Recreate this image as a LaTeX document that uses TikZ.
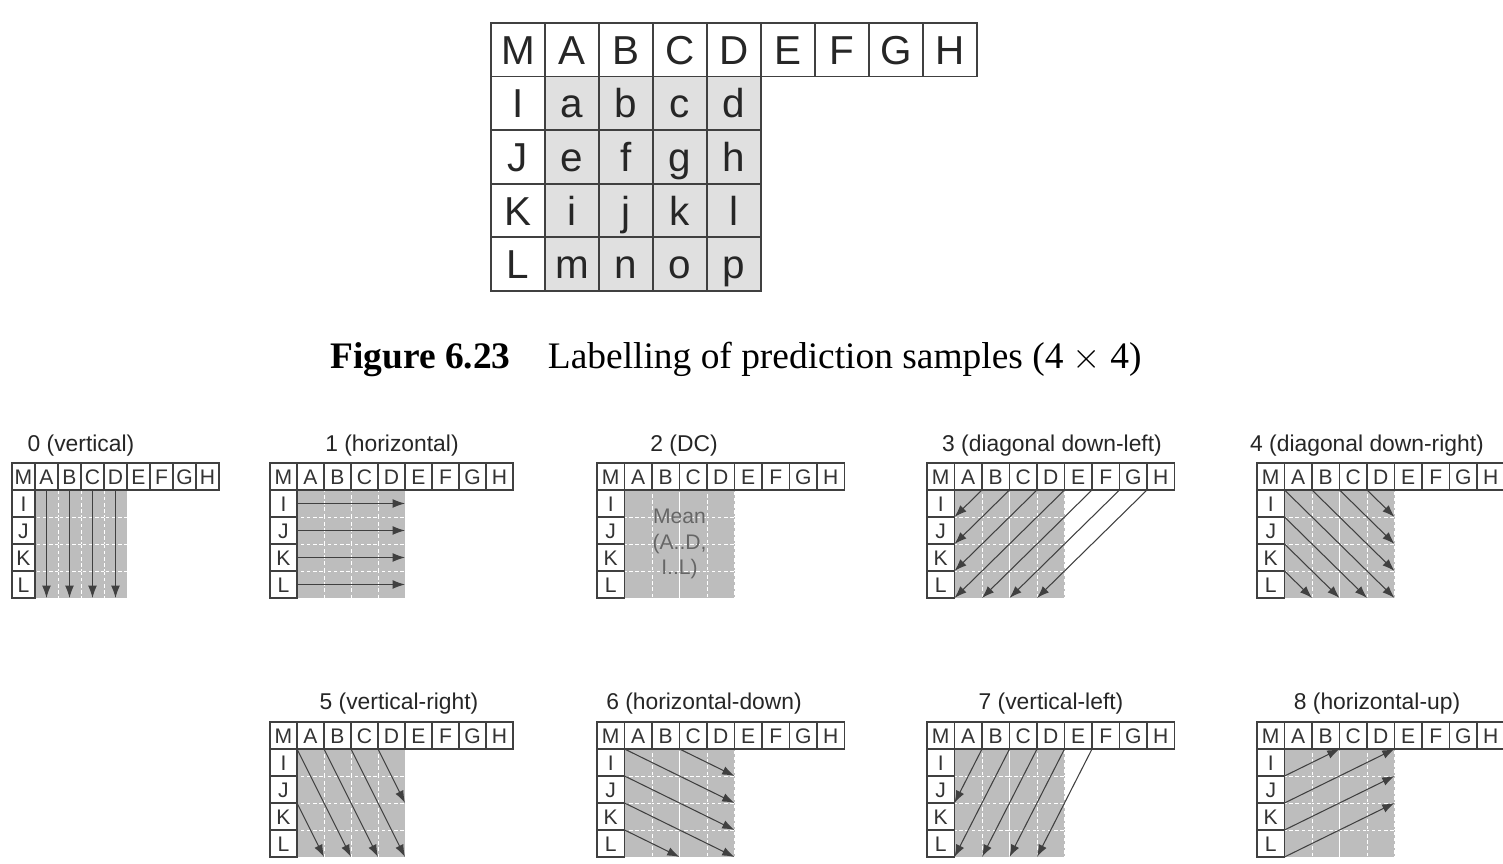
\documentclass[tikz,border=0pt]{standalone}
\usepackage{fontspec}
\setmainfont{Liberation Serif}
\setsansfont{Liberation Sans}
\usetikzlibrary{arrows.meta, positioning}

\tikzset{
  smallcell/.style={draw=black!75, fill=white, line width=0.6pt, inner sep=0pt, outer sep=0pt,
    minimum height=0.54cm, text height=8.6pt, text depth=0pt, text=black!80,
    font=\sffamily\fontsize{12}{14}\selectfont},
  blockcell/.style={draw=white, dash pattern=on 2pt off 1.5pt, line width=0.5pt, fill=black!26,
    inner sep=0pt, outer sep=0pt, minimum height=0.54cm},
  bigcell/.style={draw=black!75, fill=white, line width=1pt, inner sep=0pt, outer sep=0pt,
    minimum width=1.08cm, minimum height=1.072cm, text height=16.5pt, text depth=0pt,
    text=black!85, font=\sffamily\fontsize{23}{25}\selectfont},
  bigblock/.style={bigcell, fill=black!12},
  modelabel/.style={text=black!85, font=\sffamily\fontsize{13}{15}\selectfont},
  predarrow/.style={draw=black!75, line width=0.6pt, -{Latex[length=7pt,width=5pt]}}
}

% one 4x4 prediction grid: name, left, top, cell width (px)
\newcommand{\modegrid}[4]{%
  \begin{scope}[shift={(#2,#3)}, x=#4*0.02cm, y=-0.54cm]
    \foreach \l [count=\i from 0, evaluate=\i as \cx using {mod(\i,4)+1.5},
                 evaluate=\i as \cy using {int(\i/4)+1.5}] in {a,...,p}
      \node[blockcell, minimum width=#4*0.02cm] (#1-\l) at (\cx,\cy) {};
    \node[smallcell, minimum width=#4*0.02cm] (#1-M) at (0.5,0.5) {M};
    \foreach \l [count=\i] in {A,...,H}
      \node[smallcell, minimum width=#4*0.02cm] (#1-\l) at (\i+0.5,0.5) {\l};
    \foreach \l [count=\j] in {I,J,K,L}
      \node[smallcell, minimum width=#4*0.02cm] (#1-\l) at (0.5,\j+0.5) {\l};
  \end{scope}}

\begin{document}
\begin{tikzpicture}[x=0.02cm, y=-0.02cm]
    \useasboundingbox[fill=white] (0,0) rectangle (1503,864);

    % Labelled samples (4x4)
    \begin{scope}[shift={(491,23)}, x=1.08cm, y=-1.072cm]
      \foreach \l [count=\i from 0, evaluate=\i as \cx using {mod(\i,4)+1.5},
                   evaluate=\i as \cy using {int(\i/4)+1.5}] in {a,...,p}
        \node[bigblock] (big-\l) at (\cx,\cy) {\l};
      \node[bigcell] (big-M) at (0.5,0.5) {M};
      \foreach \l [count=\i] in {A,...,H}
        \node[bigcell] (big-\l) at (\i+0.5,0.5) {\l};
      \foreach \l [count=\j] in {I,J,K,L}
        \node[bigcell] (big-\l) at (0.5,\j+0.5) {\l};
    \end{scope}

    % Caption
    \node[anchor=base west, inner sep=0pt, font=\fontsize{21.3}{25}\selectfont] (caption) at (330,369)
      {\textbf{Figure 6.23}\quad Labelling of prediction samples (4 $\times$ 4)};

    % Mode 0
    \node[modelabel] (m0-title) at (81,446) {0 (vertical)};
    \modegrid{m0}{12}{463}{23}
    \foreach \s/\t in {A/m,B/n,C/o,D/p}
      \draw[predarrow] (m0-\s.south) -- (m0-\t.south);

    % Mode 1
    \node[modelabel] (m1-title) at (392,446) {1 (horizontal)};
    \modegrid{m1}{270}{463}{27}
    \foreach \s/\t in {I/d,J/h,K/l,L/p}
      \draw[predarrow] (m1-\s.east) -- (m1-\t.east);

    % Mode 2
    \node[modelabel] (m2-title) at (684,446) {2 (DC)};
    \modegrid{m2}{597}{463}{27.5}
    \node[align=center, text=black!60, font=\sffamily\fontsize{12}{14.5}\selectfont]
      (m2-mean) at (m2-f.south east) {Mean\\(A..D,\\I..L)};

    % Mode 3
    \node[modelabel] (m3-title) at (1052,446) {3 (diagonal down-left)};
    \modegrid{m3}{927}{463}{27.5}
    \foreach \s/\t in {B/e.north west,C/i.north west,D/m.north west,E/m.south west,
                       F/n.south west,G/o.south west,H/p.south west}
      \draw[predarrow] (m3-\s.south west) -- (m3-\t);

    % Mode 4
    \node[modelabel] (m4-title) at (1367,446) {4 (diagonal down-right)};
    \modegrid{m4}{1257}{463}{27.5}
    \foreach \s/\t in {a/p,b/l,c/h,d/d,e/o,i/n,m/m}
      \draw[predarrow] (m4-\s.north west) -- (m4-\t.south east);

    % Mode 5
    \node[modelabel] (m5-title) at (399,704) {5 (vertical-right)};
    \modegrid{m5}{270}{722}{27}
    \foreach \s/\t in {a/n,b/o,c/p,d/h,i/m}
      \draw[predarrow] (m5-\s.north west) -- (m5-\t.south east);

    % Mode 6
    \node[modelabel] (m6-title) at (704,704) {6 (horizontal-down)};
    \modegrid{m6}{597}{722}{27.5}
    \foreach \s/\t in {a/h,c/d,e/l,i/p,m/n}
      \draw[predarrow] (m6-\s.north west) -- (m6-\t.south east);

    % Mode 7
    \node[modelabel] (m7-title) at (1051,704) {7 (vertical-left)};
    \modegrid{m7}{927}{722}{27.5}
    \foreach \s/\t in {B/i.north west,C/m.south west,D/n.south west,E/o.south west,F/p.south west}
      \draw[predarrow] (m7-\s.south west) -- (m7-\t);

    % Mode 8
    \node[modelabel] (m8-title) at (1377,704) {8 (horizontal-up)};
    \modegrid{m8}{1257}{722}{27.5}
    \foreach \s/\t in {e.north west/c.north west,i.north west/d.north east,
                       m.north west/h.north east,m.south west/l.north east}
      \draw[predarrow] (m8-\s) -- (m8-\t);
\end{tikzpicture}
\end{document}
